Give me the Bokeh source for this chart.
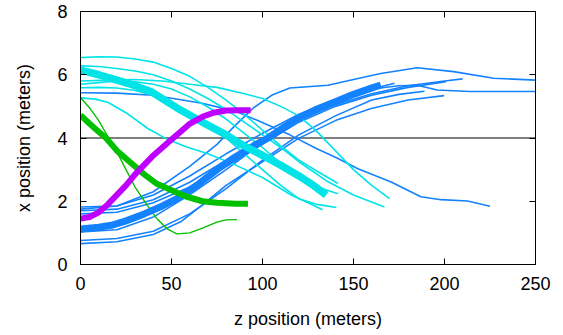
from bokeh.plotting import figure
from bokeh.models import Range1d, LinearAxis, FixedTicker, Span
from bokeh.embed import file_html
from bokeh.resources import INLINE

# ---------------- data ----------------
x_ticks = [0, 50, 100, 150, 200, 250]
y_ticks = [0, 2, 4, 6, 8]
threshold_x = 4

# thin cyan trajectories
cyan_1_x = [0, 10, 20, 30, 40, 50, 60, 70, 80, 90, 100, 110, 120, 130, 141.5]
cyan_1_y = [6.54, 6.57, 6.56, 6.5, 6.4, 6.2, 5.95, 5.6, 5.2, 4.75, 4.25, 3.75, 3.3, 2.95, 2.56]
cyan_2_x = [0, 10, 20, 30, 40, 50, 60, 70, 80, 90, 100, 110, 120, 135, 150, 167]
cyan_2_y = [6.28, 6.26, 6.2, 6.12, 6.0, 5.8, 5.55, 5.25, 4.9, 4.5, 4.1, 3.7, 3.25, 2.65, 2.2, 1.82]
cyan_3_x = [0, 15, 30, 45, 60, 75, 90, 100, 110, 120, 130, 140, 150, 160, 169.8]
cyan_3_y = [5.8, 5.83, 5.85, 5.8, 5.7, 5.6, 5.4, 5.25, 5.0, 4.7, 4.2, 3.6, 3.0, 2.5, 2.08]
cyan_4_x = [0, 10, 20, 30, 40, 50, 60, 70, 80, 90, 100, 110, 120, 130, 141.5]
cyan_4_y = [5.7, 5.75, 5.8, 5.78, 5.7, 5.55, 5.3, 4.98, 4.6, 4.15, 3.7, 3.2, 2.75, 2.45, 2.24]
cyan_5_x = [0, 10, 20, 30, 40, 50, 60, 70, 80, 90, 100, 110, 120, 130, 140.6]
cyan_5_y = [5.59, 5.6, 5.58, 5.5, 5.35, 5.1, 4.8, 4.42, 4.0, 3.5, 3.0, 2.5, 2.08, 1.9, 1.8]
cyan_6_x = [0, 8, 15, 25, 37, 48, 58, 70, 85, 100, 116, 125, 133]
cyan_6_y = [5.27, 5.23, 5.13, 4.8, 4.3, 3.95, 3.72, 3.5, 3.15, 2.75, 2.19, 1.95, 1.73]

# thin blue trajectories
blue_1_x = [0, 20, 40, 60, 75, 85, 95, 105, 115, 136, 150, 165, 185, 205, 227, 250]
blue_1_y = [1.75, 1.85, 2.3, 3.1, 3.8, 4.4, 4.95, 5.35, 5.58, 5.67, 5.85, 6.04, 6.22, 6.1, 5.89, 5.83]
blue_2_x = [0, 20, 40, 60, 80, 100, 120, 140, 160, 175, 185, 196, 214, 250]
blue_2_y = [1.82, 1.85, 2.2, 2.8, 3.5, 4.15, 4.75, 5.2, 5.55, 5.65, 5.67, 5.52, 5.47, 5.47]
blue_3_x = [0, 20, 40, 60, 80, 100, 120, 140, 160, 180, 200, 209.9]
blue_3_y = [1.7, 1.75, 2.05, 2.6, 3.3, 3.95, 4.55, 5.05, 5.4, 5.65, 5.8, 5.87]
blue_4_x = [0, 20, 40, 60, 80, 100, 120, 140, 160, 180, 200.8]
blue_4_y = [1.6, 1.65, 1.95, 2.45, 3.1, 3.8, 4.5, 5.0, 5.35, 5.6, 5.78]
blue_5_x = [0, 20, 40, 60, 80, 100, 120, 140, 160, 172.5]
blue_5_y = [1.03, 1.1, 1.5, 2.2, 3.0, 3.85, 4.55, 5.15, 5.55, 5.73]
blue_6_x = [0, 20, 40, 60, 80, 100, 120, 140, 160, 175, 189]
blue_6_y = [0.76, 0.82, 1.05, 1.6, 2.4, 3.3, 4.1, 4.7, 5.2, 5.38, 5.48]
blue_7_x = [0, 20, 40, 55, 66.7, 80, 100, 119.6, 140, 159.7, 180, 199.8]
blue_7_y = [0.66, 0.72, 0.95, 1.35, 1.87, 2.5, 3.25, 3.98, 4.55, 4.93, 5.2, 5.34]
blue_8_x = [0, 20, 40, 66.7, 85, 99.6, 115, 129.6, 141.5, 152.4, 170.7, 187, 198, 212.6, 225]
blue_8_y = [5.43, 5.42, 5.35, 5.1, 4.85, 4.5, 4.1, 3.67, 3.35, 3.03, 2.61, 2.14, 2.05, 2.01, 1.84]

# thin green trajectory
green_thin_x = [0, 5, 10, 14, 20, 25, 30, 36.7, 42, 47.6, 53, 60, 67, 75, 80, 86]
green_thin_y = [5.28, 4.95, 4.55, 4.15, 3.56, 3.0, 2.45, 1.87, 1.45, 1.13, 0.97, 1.0, 1.15, 1.34, 1.41, 1.42]

# thick (mean) trajectories
blue_mean_x = [0, 10, 17, 25, 35, 45, 53, 65, 75, 85, 95, 103, 112, 121, 130, 140, 150, 161, 165]
blue_mean_y = [1.12, 1.18, 1.24, 1.38, 1.6, 1.85, 2.08, 2.55, 3.0, 3.4, 3.75, 4.0, 4.35, 4.67, 4.92, 5.15, 5.38, 5.6, 5.67]
cyan_mean_x = [0, 10, 20, 26, 39, 53, 67, 80, 89, 100, 110, 120, 128, 135]
cyan_mean_y = [6.15, 6.0, 5.83, 5.73, 5.46, 4.95, 4.5, 4.1, 3.78, 3.45, 3.14, 2.8, 2.5, 2.2]
green_mean_x = [0, 5, 10, 14, 20, 27, 35, 42, 50, 58, 67, 75, 85, 92]
green_mean_y = [4.72, 4.45, 4.2, 4.0, 3.6, 3.25, 2.85, 2.55, 2.35, 2.15, 2.0, 1.95, 1.92, 1.92]
magenta_mean_x = [0, 5, 10, 15, 20, 25, 30, 35, 40, 45, 50, 55, 60, 67, 73, 80, 87, 93.5]
magenta_mean_y = [1.45, 1.5, 1.65, 1.9, 2.2, 2.5, 2.85, 3.15, 3.45, 3.7, 3.95, 4.2, 4.45, 4.67, 4.8, 4.87, 4.88, 4.88]

CYAN = "#00e4e8"
BLUE = "#1482ff"
GREEN = "#00c000"
MAGENTA = "#c000ff"
FONT = "Liberation Sans"

p = figure(width=553, height=333,
           x_range=Range1d(0, 250), y_range=Range1d(0, 8),
           output_backend="svg", toolbar_location=None,
           min_border_left=80, min_border_right=18,
           min_border_top=11, min_border_bottom=69)
p.grid.visible = False
p.outline_line_color = "black"
p.outline_line_width = 1
p.background_fill_color = "white"
p.border_fill_color = "white"

p.add_layout(Span(location=threshold_x, dimension="width",
                  line_color="black", line_width=1.2, level="underlay"))

thin_cyan = [(cyan_1_x, cyan_1_y), (cyan_2_x, cyan_2_y), (cyan_3_x, cyan_3_y),
             (cyan_4_x, cyan_4_y), (cyan_5_x, cyan_5_y), (cyan_6_x, cyan_6_y)]
thin_blue = [(blue_1_x, blue_1_y), (blue_2_x, blue_2_y), (blue_3_x, blue_3_y),
             (blue_4_x, blue_4_y), (blue_5_x, blue_5_y), (blue_6_x, blue_6_y),
             (blue_7_x, blue_7_y), (blue_8_x, blue_8_y)]

for xs, ys in thin_blue:
    p.line(xs, ys, line_color=BLUE, line_width=1.6, line_join="round")
for xs, ys in thin_cyan:
    p.line(xs, ys, line_color=CYAN, line_width=1.6, line_join="round")
p.line(green_thin_x, green_thin_y, line_color=GREEN, line_width=1.4, line_join="round")

p.line(blue_mean_x, blue_mean_y, line_color=BLUE, line_width=7, line_join="round")
p.line(cyan_mean_x, cyan_mean_y, line_color=CYAN, line_width=7.5, line_join="round")
p.line(green_mean_x, green_mean_y, line_color=GREEN, line_width=6, line_join="round")
p.line(magenta_mean_x, magenta_mean_y, line_color=MAGENTA, line_width=6, line_join="round")

xa = p.xaxis[0]
xa.ticker = FixedTicker(ticks=x_ticks)
ya = p.yaxis[0]
ya.ticker = FixedTicker(ticks=y_ticks)
for ax in (xa, ya):
    ax.axis_line_color = "black"
    ax.major_tick_in = 6
    ax.major_tick_out = 0
    ax.major_tick_line_color = "black"
    ax.minor_tick_line_color = None
    ax.major_label_text_font = FONT
    ax.major_label_text_font_size = "18px"
    ax.major_label_text_color = "black"
    ax.axis_label_text_font = FONT
    ax.axis_label_text_font_size = "18px"
    ax.axis_label_text_font_style = "normal"
    ax.axis_label_text_color = "black"
xa.axis_label = "z position (meters)"
ya.axis_label = "x position (meters)"
xa.major_label_standoff = 12
ya.major_label_standoff = 13
xa.axis_label_standoff = 16
ya.axis_label_standoff = 20

top = LinearAxis(ticker=FixedTicker(ticks=x_ticks), major_label_text_color=None,
                 major_label_text_font_size="1px",
                 major_tick_in=6, major_tick_out=0, minor_tick_line_color=None,
                 axis_line_color="black", major_label_standoff=0)
right = LinearAxis(ticker=FixedTicker(ticks=y_ticks), major_label_text_color=None,
                   major_label_text_font_size="1px",
                   major_tick_in=6, major_tick_out=0, minor_tick_line_color=None,
                   axis_line_color="black", major_label_standoff=0)
p.add_layout(top, "above")
p.add_layout(right, "right")

open("out.html", "w").write(file_html(p, INLINE))
